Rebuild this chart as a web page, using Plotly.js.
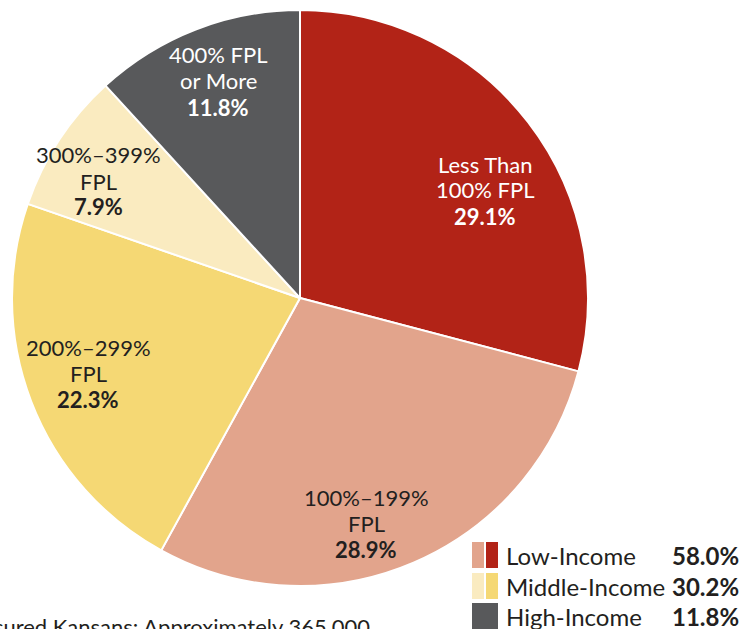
<!DOCTYPE html>
<html>
<head>
<meta charset="utf-8">
<script src="https://cdn.plot.ly/plotly-3.0.1.min.js"></script>
<style>
  html, body { margin: 0; padding: 0; background: #fff; }
  #chart { width: 742px; height: 629px; }
</style>
</head>
<body>
<div id="chart"></div>
<script>
// slices, clockwise from 12 o'clock
var sliceNames = ['Less Than<br>100% FPL', '100%–199%<br>FPL', '200%–299%<br>FPL', '300%–399%<br>FPL', '400% FPL<br>or More'];
var sliceValues = [29.1, 28.9, 22.3, 7.9, 11.8];
var sliceColors = ['#B22317', '#E2A48C', '#F5D874', '#FAEBC0', '#58595B'];
var labelColors = ['#ffffff', '#231F20', '#231F20', '#231F20', '#ffffff'];

// grouped legend
var groupNames = ['Low-Income', 'Middle-Income', 'High-Income'];
var groupValues = [58.0, 30.2, 11.8];
var groupColors = [['#E2A48C', '#B22317'], ['#FAEBC0', '#F5D874'], ['#58595B', '#58595B']];

var W = 742, H = 629;
function px(x) { return x / W; }
function py(y) { return 1 - y / H; }

var FONT = 'Lato, "Open Sans", sans-serif';

var pie = {
  type: 'pie',
  values: sliceValues,
  labels: sliceNames,
  sort: false,
  direction: 'clockwise',
  rotation: 0,
  textinfo: 'none',
  hoverinfo: 'none',
  showlegend: false,
  marker: { colors: sliceColors, line: { color: '#ffffff', width: 2 } },
  domain: { x: [px(12), px(588)], y: [py(586), py(10)] }
};

// where each slice label sits (pixel centres); lines are set one by one
// so the leading stays as tight as the printed original
var labelPos = [[485, 190], [366, 523], [88, 373], [98, 181], [218, 81]];
var LEAD = 26;

var annotations = [];
sliceNames.forEach(function (n, i) {
  var lines = n.split('<br>').concat(['<b>' + sliceValues[i].toFixed(1) + '%</b>']);
  lines.forEach(function (ln, j) {
    annotations.push({
      xref: 'paper', yref: 'paper',
      x: px(labelPos[i][0]), y: py(labelPos[i][1] + (j - (lines.length - 1) / 2) * LEAD),
      xanchor: 'center', yanchor: 'middle',
      showarrow: false,
      text: ln,
      font: { family: FONT, size: 22, color: labelColors[i] }
    });
  });
});

var shapes = [];
var rowTop = [542, 573, 603];
groupNames.forEach(function (g, i) {
  var t = rowTop[i], b = t + 26;
  if (groupColors[i][0] === groupColors[i][1]) {
    shapes.push({ type: 'rect', xref: 'paper', yref: 'paper', x0: px(472), x1: px(498), y0: py(b), y1: py(t),
      fillcolor: groupColors[i][0], line: { width: 0 } });
  } else {
    shapes.push({ type: 'rect', xref: 'paper', yref: 'paper', x0: px(472), x1: px(484), y0: py(b), y1: py(t),
      fillcolor: groupColors[i][0], line: { width: 0 } });
    shapes.push({ type: 'rect', xref: 'paper', yref: 'paper', x0: px(486), x1: px(498), y0: py(b), y1: py(t),
      fillcolor: groupColors[i][1], line: { width: 0 } });
  }
  annotations.push({
    xref: 'paper', yref: 'paper', x: px(504), y: py(t + 13),
    xanchor: 'left', yanchor: 'middle', showarrow: false,
    text: g, font: { family: FONT, size: 24, color: '#231F20' }
  });
  annotations.push({
    xref: 'paper', yref: 'paper', x: px(741), y: py(t + 13),
    xanchor: 'right', yanchor: 'middle', showarrow: false,
    text: '<b>' + groupValues[i].toFixed(1) + '%</b>', font: { family: FONT, size: 24, color: '#231F20' }
  });
});

// footnote, cut by the page edge as in the original
annotations.push({
  xref: 'paper', yref: 'paper', x: px(372), y: py(611),
  xanchor: 'right', yanchor: 'top', showarrow: false,
  text: 'Total Uninsured Kansans: Approximately 365,000',
  font: { family: FONT, size: 22, color: '#231F20' }
});

var layout = {
  width: W, height: H,
  margin: { l: 0, r: 0, t: 0, b: 0 },
  paper_bgcolor: '#ffffff',
  showlegend: false,
  shapes: shapes,
  annotations: annotations
};

Plotly.newPlot('chart', [pie], layout, { displayModeBar: false, staticPlot: true });
</script>
</body>
</html>
